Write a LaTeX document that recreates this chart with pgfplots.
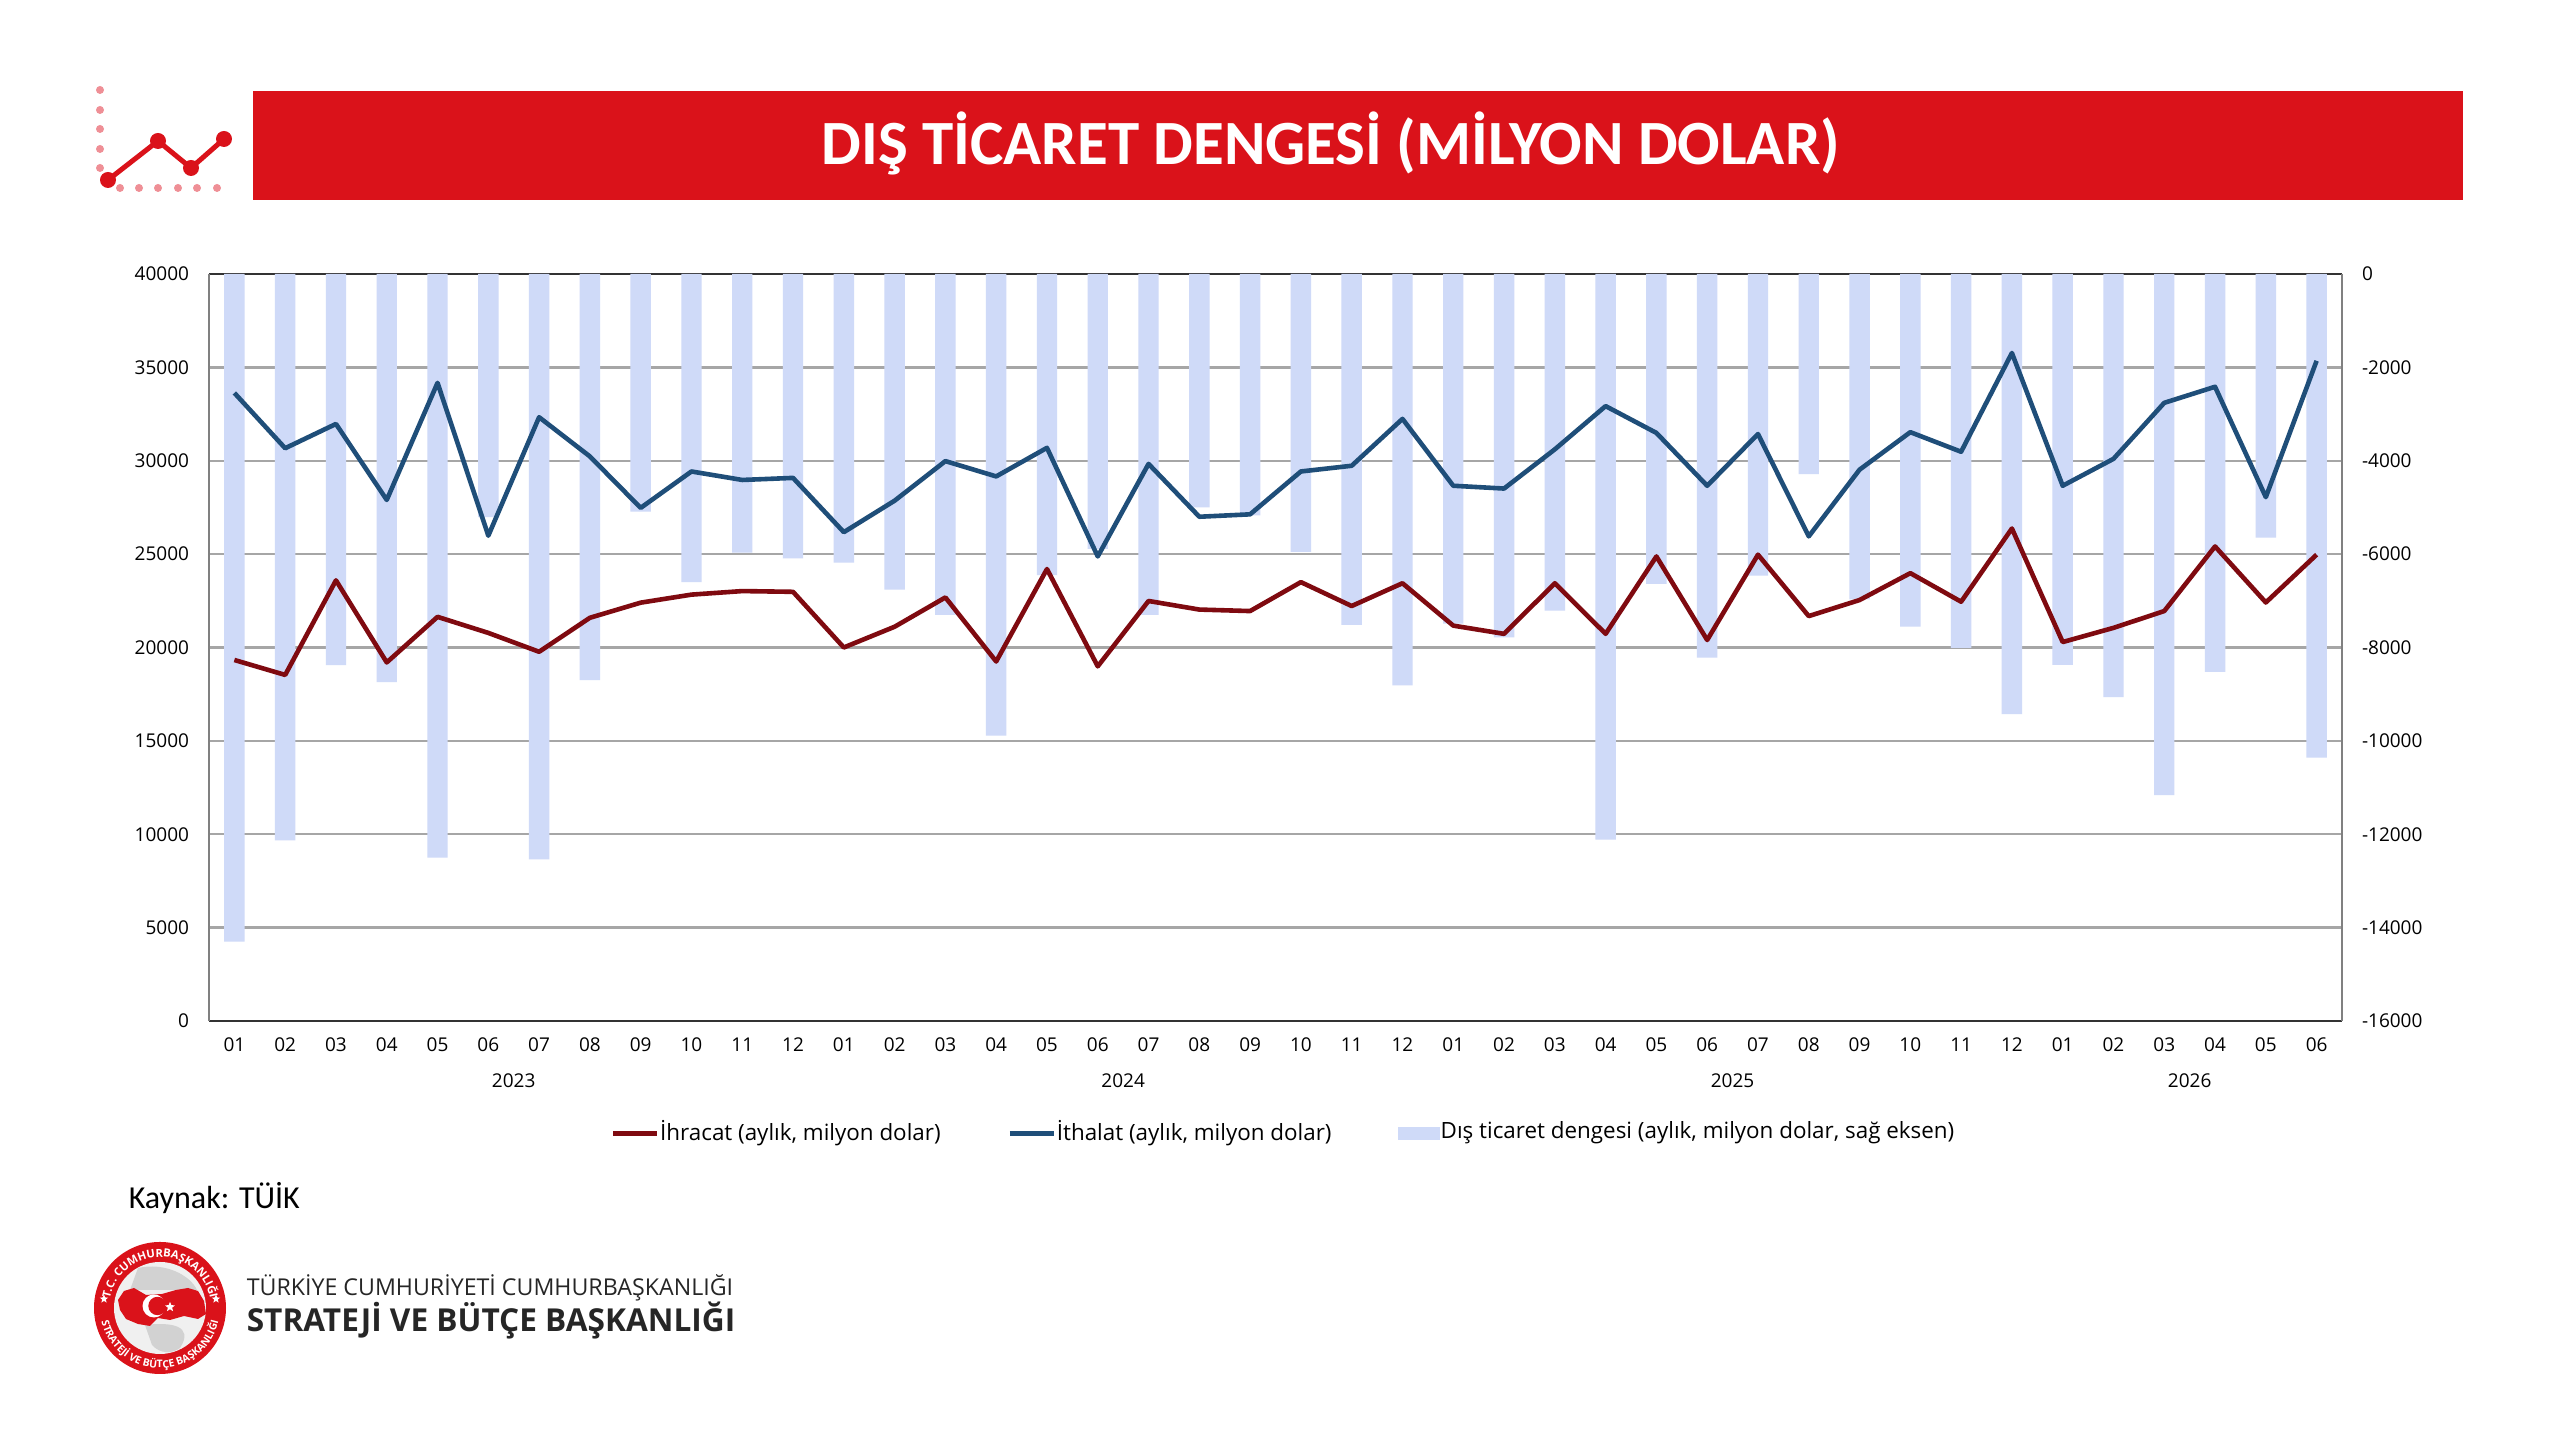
\documentclass[border=0pt]{standalone}
\usepackage{fontspec}
\setmainfont{Open Sans}
\newfontfamily\carlito{Carlito}
\usepackage{pgfplots}
\usepackage{pgfplotstable}
\pgfplotsset{compat=1.18}
\usetikzlibrary{decorations.text,shapes.geometric}

\definecolor{banner}{HTML}{DA121A}
\definecolor{dots}{HTML}{EF8F96}
\definecolor{ihracat}{HTML}{7F0A10}
\definecolor{ithalat}{HTML}{1F4E79}
\definecolor{denge}{HTML}{CFDAF8}
\definecolor{gridc}{HTML}{A6A6A6}
\definecolor{globe}{HTML}{D2D2D2}

% idx, exports, imports, balance (right axis)
\pgfplotstableread{
idx ihr ith den
0 19330 33630 -14300
1 18530 30670 -12130
2 23595 31970 -8380
3 19200 27900 -8740
4 21640 34170 -12500
5 20780 25985 -5210
6 19770 32330 -12540
7 21590 30230 -8700
8 22400 27475 -5090
9 22830 29425 -6600
10 23020 28970 -5970
11 22980 29080 -6090
12 20000 26175 -6180
13 21110 27860 -6760
14 22680 29980 -7300
15 19250 29160 -9890
16 24200 30690 -6450
17 18990 24875 -5890
18 22490 29830 -7300
19 22030 27000 -5000
20 21950 27130 -5170
21 23500 29425 -5950
22 22220 29730 -7515
23 23440 32240 -8810
24 21170 28660 -7490
25 20730 28510 -7785
26 23440 30610 -7210
27 20730 32925 -12115
28 24875 31490 -6640
29 20400 28660 -8220
30 24970 31430 -6460
31 21680 25950 -4285
32 22540 29520 -6970
33 23980 31530 -7555
34 22450 30480 -8010
35 26370 35770 -9430
36 20290 28660 -8375
37 21050 30100 -9065
38 21950 33100 -11165
39 25410 33960 -8520
40 22410 28050 -5645
41 24970 35350 -10360
}\dis

\pgfplotsset{
  common/.style={
    scale only axis, width=533.25pt, height=186.75pt,
    at={(52.25pt,105pt)}, anchor=south west,
    xmin=-0.5, xmax=41.5,
    major tick length=0pt,
    scaled y ticks=false,
    tick label style={font=\fontsize{4.75}{6}\selectfont, inner sep=0pt, outer sep=0pt},
  },
  lineleg/.style={legend image code/.code={\draw[##1] (0pt,0pt) -- (11pt,0pt);}},
  barleg/.style={legend image code/.code={\fill[denge] (0pt,-1.5pt) rectangle (10pt,1.5pt);}},
}

\begin{document}
\begin{tikzpicture}
\useasboundingbox (0,0) rectangle (640pt,360.25pt);
\fill[white] (0,0) rectangle (640pt,360.25pt);

% everything in this scope is in pixels of the reference, y downwards
\begin{scope}[shift={(0,360.25pt)},x=0.25pt,y=-0.25pt]
  \fill[banner] (253,91) rectangle (2463,200);
  \node[text=white,font=\carlito\bfseries\fontsize{15.75}{18}\selectfont] at (1331,143) {DIŞ TİCARET DENGESİ (MİLYON DOLAR)};
  % icon
  \foreach \y in {90,110,129,149,168} \fill[dots] (100,\y) circle (4);
  \foreach \x in {120,139,158,178,197,217} \fill[dots] (\x,188) circle (4);
  \draw[banner,line width=1.25pt] (108,180) -- (158,141) -- (191,168) -- (224,139);
  \foreach \x/\y in {108/180,158/141,191/168,224/139} \fill[banner] (\x,\y) circle (8);
  % source and institution
  \node[anchor=west,inner sep=0pt,font=\carlito\fontsize{8}{10}\selectfont] at (128,1198) {Kaynak: TÜİK};
  \node[anchor=west,inner sep=0pt,text=black!85,font=\fontsize{5.8}{7}\selectfont] at (246,1288) {TÜRKİYE CUMHURİYETİ CUMHURBAŞKANLIĞI};
  \node[anchor=west,inner sep=0pt,text=black!85,font=\bfseries\fontsize{7.9}{9}\selectfont] at (246,1321) {STRATEJİ VE BÜTÇE BAŞKANLIĞI};
  % emblem
  \fill[banner] (160,1308) circle (66);
  \fill[black!6] (160,1308) circle (46);
  \fill[globe] (138,1268) .. controls (165,1262) and (190,1275) .. (197,1290) -- (130,1290) -- cycle;
  \fill[globe] (145,1325) .. controls (170,1322) and (195,1325) .. (180,1348) .. controls (172,1354) and (160,1354) .. (152,1345) -- cycle;
  \fill[banner] (118,1300) -- (124,1291) -- (134,1288) -- (146,1295) -- (162,1294) -- (176,1290) -- (188,1288) -- (198,1291) -- (204,1301) -- (206,1314) -- (198,1319) -- (184,1316) -- (170,1320) -- (158,1318) -- (150,1326) -- (138,1324) -- (126,1319) -- (120,1310) -- cycle;
  \fill[white] (154,1306) circle (11.5);
  \fill[banner] (157.5,1306) circle (9.2);
  \node[star,star points=5,star point ratio=2.3,fill=white,inner sep=0pt,minimum size=2.6pt] at (170,1307) {};
  \node[star,star points=5,star point ratio=2.3,fill=white,inner sep=0pt,minimum size=2.2pt] at (104,1299) {};
  \node[star,star points=5,star point ratio=2.3,fill=white,inner sep=0pt,minimum size=2.2pt] at (216,1299) {};
  \path[decorate,decoration={text along path,text align=center,
      text={|\bfseries\fontsize{2.8}{3}\selectfont\color{white}|T.C. CUMHURBAŞKANLIĞI}}]
      (160-51,1308) arc[start angle=180,end angle=0,x radius=51,y radius=-51];
  \path[decorate,decoration={text along path,text align=center,
      text={|\bfseries\fontsize{2.6}{3}\selectfont\color{white}|STRATEJİ VE BÜTÇE BAŞKANLIĞI}}]
      (160-60,1308) arc[start angle=180,end angle=360,x radius=60,y radius=-60];
\end{scope}

% bars and grid, right axis
\begin{axis}[common,
    clip=false,
    ymin=-16000, ymax=0,
    axis y line*=right,
    axis x line*=bottom,
    axis line style={draw=gray,line width=0.3pt,-},
    ytick={-16000,-14000,-12000,-10000,-8000,-6000,-4000,-2000,0},
    yticklabels={-16000,-14000,-12000,-10000,-8000,-6000,-4000,-2000,0},
    y tick label style={anchor=west,xshift=5pt},
    ymajorgrids,
    grid style={draw=gridc,line width=0.6pt},
    xtick={0,...,41},
    xticklabels={01,02,03,04,05,06,07,08,09,10,11,12,01,02,03,04,05,06,07,08,09,10,11,12,01,02,03,04,05,06,07,08,09,10,11,12,01,02,03,04,05,06},
    x tick label style={anchor=center,yshift=-6pt},
  ]
  \draw[black!80,line width=0.5pt] (axis cs:-0.5,0) -- (axis cs:41.5,0);
  \addplot[ybar,bar width=5.1pt,fill=denge,draw=none] table[x=idx,y=den] {\dis};
  \draw[black!80,line width=0.6pt] (axis cs:-0.5,-16000) -- (axis cs:41.5,-16000);
  \draw[gray,line width=0.3pt] (axis cs:-0.5,-16000) -- (axis cs:-0.5,0);
  \draw[gray,line width=0.3pt] (axis cs:41.5,-16000) -- (axis cs:41.5,0);
  \node[font=\fontsize{4.75}{6}\selectfont] at (axis cs:5.5,-16000) [yshift=-15pt] {2023};
  \node[font=\fontsize{4.75}{6}\selectfont] at (axis cs:17.5,-16000) [yshift=-15pt] {2024};
  \node[font=\fontsize{4.75}{6}\selectfont] at (axis cs:29.5,-16000) [yshift=-15pt] {2025};
  \node[font=\fontsize{4.75}{6}\selectfont] at (axis cs:38.5,-16000) [yshift=-15pt] {2026};
\end{axis}

% lines, left axis, legend
\begin{axis}[common,
    ymin=0, ymax=40000,
    axis y line*=left,
    axis x line=none,
    axis line style={draw=gray,line width=0.3pt,-},
    ytick={0,5000,10000,15000,20000,25000,30000,35000,40000},
    yticklabels={0,5000,10000,15000,20000,25000,30000,35000,40000},
    y tick label style={anchor=east,xshift=-5pt},
    legend columns=3,
    legend style={at={(0.5035,-0.1505)},anchor=center,draw=none,fill=none,
      font=\fontsize{5.6}{6}\selectfont,inner sep=0pt,
      nodes={inner xsep=0.2pt,inner ysep=1pt},
      /tikz/every even column/.append style={column sep=16.5pt}},
    legend cell align=left,
  ]
  \addplot[ihracat,line width=1.15pt,line join=round,lineleg] table[x=idx,y=ihr] {\dis};
  \addlegendentry{İhracat (aylık, milyon dolar)}
  \addplot[ithalat,line width=1.15pt,line join=round,lineleg] table[x=idx,y=ith] {\dis};
  \addlegendentry{İthalat (aylık, milyon dolar)}
  \addlegendimage{barleg}
  \addlegendentry{Dış ticaret dengesi (aylık, milyon dolar, sağ eksen)}
\end{axis}
\end{tikzpicture}
\end{document}
